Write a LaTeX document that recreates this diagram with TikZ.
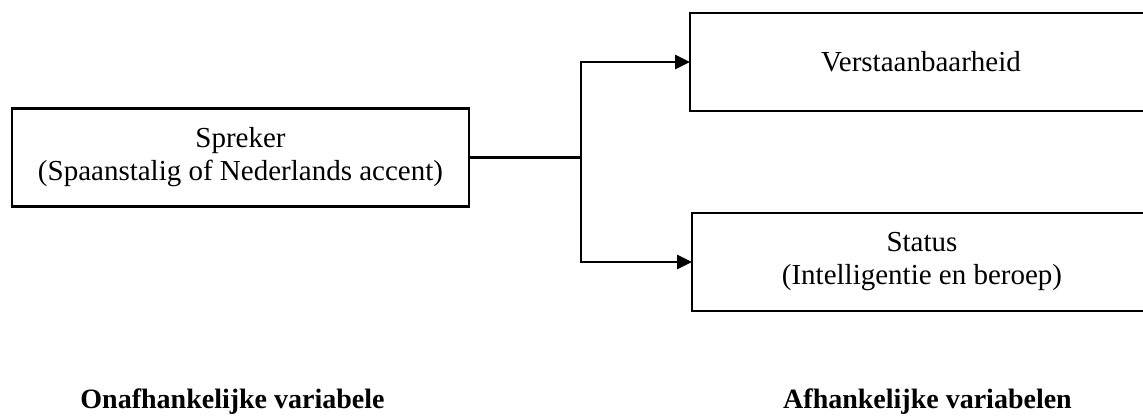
\documentclass[tikz,border=0pt]{standalone}
\usepackage{fontspec}
\setmainfont{Liberation Serif}
\usetikzlibrary{arrows.meta,positioning}
\tikzset{
	box/.style={
		rectangle,
		draw=black, line width=2.6pt,
		minimum width=457pt,
		minimum height=98pt,
		outer sep=0pt,
		inner sep=2pt,
		align=center,
		font=\fontsize{29}{33}\selectfont,
	},
	varlabel/.style={
		anchor=base,
		font=\fontsize{28}{32}\selectfont\bfseries,
	},
}

\begin{document}
\begin{tikzpicture}[x=1pt,y=-1pt,>={Triangle[length=15pt,width=14pt]}]
\useasboundingbox (0,0) rectangle (1143,415);
\node	(spreker)	[box]	at (240.5,157.5)	{Spreker\\(Spaanstalig of Nederlands accent)};
\node	(verstaan)	[box, minimum width=462pt]	[right=221pt of spreker, yshift=95.5pt]	{Verstaanbaarheid};
\node	(status)	[box, minimum width=460pt]	[below=102pt of verstaan.south west, anchor=north west, xshift=2pt]	{Status\\(Intelligentie en beroep)};

\node	(onafh)	[varlabel]	at (232.5,408)	{Onafhankelijke variabele};
\node	(afh)	[varlabel]	at (927.5,408)	{Afhankelijke variabelen};

\coordinate (split) at (581,157.5);
\draw[line width=2.6pt] (spreker.east) -- (split);
\draw[line width=2.6pt, ->] (split) |- (verstaan.west);
\draw[line width=2.6pt, ->] (split) |- (status.west);

\end{tikzpicture}
\end{document}
